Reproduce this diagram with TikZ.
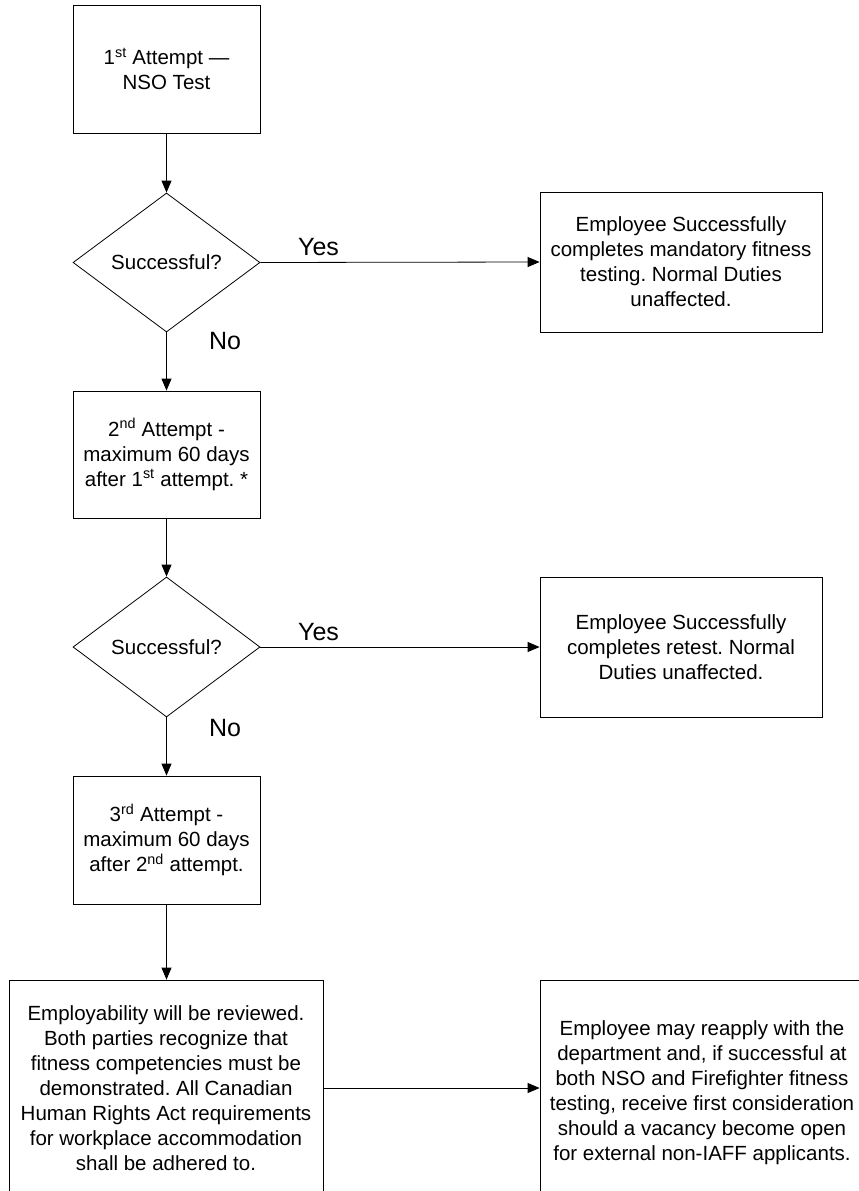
\documentclass[tikz,border=0pt]{standalone}
\usepackage{fontspec}
\setmainfont{Liberation Sans}
\usetikzlibrary{arrows.meta,shapes.geometric}
\frenchspacing
\begin{document}
\begin{tikzpicture}[x=1pt,y=-1pt,
  box/.style={draw,line width=0.8pt,align=center,inner sep=0pt,font=\fontsize{20.5}{25}\selectfont},
  dia/.style={draw,diamond,aspect=1.35,line width=0.8pt,inner sep=0pt,font=\fontsize{20.5}{25}\selectfont},
  lbl/.style={font=\fontsize{25}{30}\selectfont,inner sep=0pt},
  arr/.style={-{Triangle[length=12pt,width=10pt]},line width=0.8pt}]
\useasboundingbox (0,0) rectangle (859,1191);
\clip (0,0) rectangle (859,1191);
\node[box,minimum width=187pt,minimum height=128pt] (b1) at (166.5,69) {1\textsuperscript{st} Attempt —\\NSO Test};
\node[dia,minimum width=187pt,minimum height=139pt] (d1) at (166.5,262.5) {Successful?};
\node[box,minimum width=282pt,minimum height=140pt] (r1) at (681,262) {Employee Successfully\\completes mandatory fitness\\testing. Normal Duties\\unaffected.};
\node[box,minimum width=187pt,minimum height=127pt] (b2) at (166.5,454.5) {2\textsuperscript{nd} Attempt -\\maximum 60 days\\after 1\textsuperscript{st} attempt. *};
\node[dia,minimum width=187pt,minimum height=140pt] (d2) at (166.5,647) {Successful?};
\node[box,minimum width=282pt,minimum height=140pt] (r2) at (681,647) {Employee Successfully\\completes retest. Normal\\Duties unaffected.};
\node[box,minimum width=187pt,minimum height=128pt] (b3) at (166.5,840) {3\textsuperscript{rd} Attempt -\\maximum 60 days\\after 2\textsuperscript{nd} attempt.};
\node[box,minimum width=314pt,minimum height=216pt] (b4) at (166,1088) {Employability will be reviewed.\\Both parties recognize that\\fitness competencies must be\\demonstrated. All Canadian\\Human Rights Act requirements\\for workplace accommodation\\shall be adhered to.};
\node[box,minimum width=324pt,minimum height=226pt] (b5) at (702,1093) {Employee may reapply with the\\department and, if successful at\\both NSO and Firefighter fitness\\testing, receive first consideration\\should a vacancy become open\\for external non-IAFF applicants.};
\coordinate (b5in) at (b5.west |- b4.east);
\coordinate (b4in) at (b3.south |- b4.north);
\node[lbl] (y1) at (318.5,247) {Yes};
\node[lbl] (y2) at (318.5,632) {Yes};
\node[lbl] (n1) at (225,341) {No};
\node[lbl] (n2) at (225,728) {No};
\draw[arr] (b1.south) -- (d1.north);
\draw[arr] (d1.east) -- (r1.west);
\draw[arr] (d1.south) -- (b2.north);
\draw[arr] (b2.south) -- (d2.north);
\draw[arr] (d2.east) -- (r2.west);
\draw[arr] (d2.south) -- (b3.north);
\draw[arr] (b3.south) -- (b4in);
\draw[arr] (b4.east) -- (b5in);
\end{tikzpicture}
\end{document}
